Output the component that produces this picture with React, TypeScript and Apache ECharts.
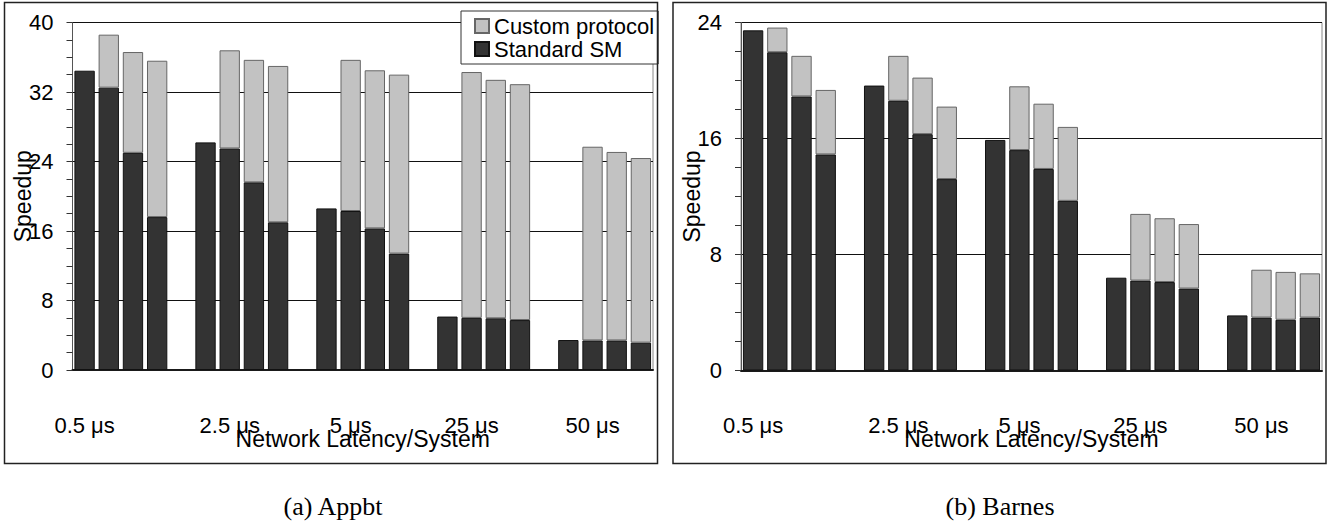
import React, { useEffect, useRef } from "react";
import * as echarts from "echarts";

// Network latencies (x-axis group labels)
const latencies = ["0.5 μs", "2.5 μs", "5 μs", "25 μs", "50 μs"];

// (a) Appbt — 4 systems per latency
const appbtStandard = [
  [34.45, 32.5, 25.0, 17.6],
  [26.2, 25.5, 21.6, 17.0],
  [18.6, 18.3, 16.3, 13.4],
  [6.15, 6.0, 5.95, 5.75],
  [3.45, 3.4, 3.4, 3.15],
];
const appbtCustom = [
  [null, 6.1, 11.6, 18.0],
  [null, 11.3, 14.1, 18.0],
  [null, 17.4, 18.2, 20.6],
  [null, 28.3, 27.45, 27.15],
  [null, 22.3, 21.7, 21.25],
];

// (b) Barnes
const barnesStandard = [
  [23.46, 21.95, 18.9, 14.9],
  [19.65, 18.6, 16.3, 13.2],
  [15.9, 15.2, 13.9, 11.7],
  [6.4, 6.2, 6.1, 5.65],
  [3.8, 3.65, 3.5, 3.65],
];
const barnesCustom = [
  [null, 1.7, 2.8, 4.45],
  [null, 3.1, 3.9, 5.0],
  [null, 4.4, 4.5, 5.1],
  [null, 4.6, 4.4, 4.45],
  [null, 3.3, 3.3, 3.05],
];

const yTicksA = { min: 0, max: 40, interval: 8 };
const yTicksB = { min: 0, max: 24, interval: 8 };

const SANS = "'Liberation Sans', Arial, Helvetica, sans-serif";
const SERIF = "'Liberation Serif', 'Times New Roman', serif";

// Flatten groups into slots with an empty slot between groups
function slots(groups: (number | null)[][]): (number | null)[] {
  const out: (number | null)[] = [];
  groups.forEach((g, i) => {
    g.forEach((v) => out.push(v));
    if (i < groups.length - 1) out.push(null);
  });
  return out;
}

const slotCount = latencies.length * 5 - 1;
const slotIds = Array.from({ length: slotCount }, (_, i) => "s" + i);
const slotLabels: string[] = slotIds.map(() => "");
latencies.forEach((lab, g) => {
  slotLabels[g * 5 + (g === 0 ? 0 : 1)] = lab;
});

export default function App() {
  const ref = useRef<HTMLDivElement>(null);
  useEffect(() => {
    if (!ref.current) return;
    const chart = echarts.init(ref.current, undefined, { renderer: "svg" });

    const xAxisBase = (gridIndex: number) => ({
      type: "category" as const,
      gridIndex,
      data: slotIds,
      axisTick: { show: false },
      axisLine: { show: true, lineStyle: { color: "#1a1a1a", width: 2 } },
      axisLabel: {
        interval: 0,
        margin: 44,
        fontSize: 22,
        fontFamily: SANS,
        color: "#000",
        formatter: (_v: string, idx: number) => slotLabels[idx],
      },
      name: "Network Latency/System",
      nameLocation: "middle" as const,
      nameGap: 57,
      nameMoveOverlap: false,
      nameTextStyle: { fontSize: 23, fontFamily: SANS, color: "#000" },
    });

    const yAxisBase = (gridIndex: number, t: { min: number; max: number; interval: number }) => ({
      type: "value" as const,
      gridIndex,
      min: t.min,
      max: t.max,
      interval: t.interval,
      axisLine: { show: true, lineStyle: { color: "#555", width: 1 } },
      axisTick: { show: true, inside: false, length: 6, lineStyle: { color: "#333" } },
      minorTick: { show: true, splitNumber: 4, length: 6, lineStyle: { color: "#333" } },
      splitLine: { show: true, lineStyle: { color: "#111", width: 1 } },
      axisLabel: { margin: 19, fontSize: 22, fontFamily: SANS, color: "#000" },
      name: "Speedup",
      nameLocation: "middle" as const,
      nameGap: 38,
      nameMoveOverlap: false,
      nameTextStyle: { fontSize: 23, fontFamily: SANS, color: "#000" },
    });

    const darkStyle = { color: "#333333", borderColor: "#111", borderWidth: 1 };
    const lightStyle = { color: "#c2c2c2", borderColor: "#666", borderWidth: 1 };

    chart.setOption({
      animation: false,
      backgroundColor: "#fff",
      grid: [
        { left: 72.5, top: 22.5, width: 580.5, height: 347.5, show: true, borderColor: "#888", borderWidth: 1 },
        { left: 741, top: 22.5, width: 581, height: 348, show: true, borderColor: "#888", borderWidth: 1 },
      ],
      legend: {
        data: ["Custom protocol", "Standard SM"],
        orient: "vertical",
        left: 461,
        top: 11,
        icon: "rect",
        itemWidth: 14,
        itemHeight: 14,
        itemGap: 1,
        padding: [4, 4, 4, 13],
        backgroundColor: "#fff",
        borderColor: "#333",
        borderWidth: 1,
        textStyle: { fontSize: 22, lineHeight: 21, fontFamily: SANS, color: "#000" },
      },
      xAxis: [xAxisBase(0), xAxisBase(1)],
      yAxis: [yAxisBase(0, yTicksA), yAxisBase(1, yTicksB)],
      series: [
        {
          name: "Standard SM",
          type: "bar",
          xAxisIndex: 0,
          yAxisIndex: 0,
          stack: "a",
          barCategoryGap: "16%",
          itemStyle: darkStyle,
          data: slots(appbtStandard),
        },
        {
          name: "Custom protocol",
          type: "bar",
          xAxisIndex: 0,
          yAxisIndex: 0,
          stack: "a",
          barCategoryGap: "16%",
          itemStyle: lightStyle,
          data: slots(appbtCustom),
        },
        {
          name: "Standard SM",
          type: "bar",
          xAxisIndex: 1,
          yAxisIndex: 1,
          stack: "b",
          barCategoryGap: "16%",
          itemStyle: darkStyle,
          data: slots(barnesStandard),
        },
        {
          name: "Custom protocol",
          type: "bar",
          xAxisIndex: 1,
          yAxisIndex: 1,
          stack: "b",
          barCategoryGap: "16%",
          itemStyle: lightStyle,
          data: slots(barnesCustom),
        },
      ],
      graphic: [
        {
          type: "rect",
          shape: { x: 4.5, y: 2.5, width: 653, height: 461 },
          style: { fill: "none", stroke: "#222", lineWidth: 1.5 },
          z: 100,
        },
        {
          type: "rect",
          shape: { x: 673, y: 2.5, width: 653, height: 461 },
          style: { fill: "none", stroke: "#222", lineWidth: 1.5 },
          z: 100,
        },
        {
          type: "text",
          x: 333,
          y: 506,
          style: {
            text: "(a) Appbt",
            font: "26px " + SERIF,
            fill: "#000",
            textAlign: "center",
            textVerticalAlign: "middle",
          },
        },
        {
          type: "text",
          x: 1000,
          y: 506,
          style: {
            text: "(b) Barnes",
            font: "26px " + SERIF,
            fill: "#000",
            textAlign: "center",
            textVerticalAlign: "middle",
          },
        },
      ],
    });
    return () => chart.dispose();
  }, []);

  return (
    <div
      ref={ref}
      style={{ position: "fixed", left: 0, top: 0, width: 1328, height: 523, background: "#fff" }}
    />
  );
}
